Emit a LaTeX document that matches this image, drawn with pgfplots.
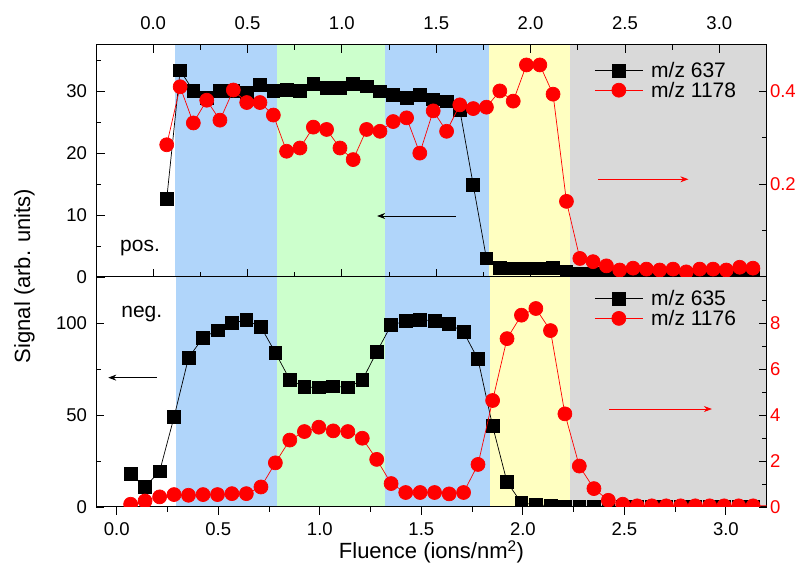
\documentclass[border=0pt]{standalone}
\usepackage{fontspec}
\setmainfont{Liberation Sans}
\usepackage{pgfplots}
\pgfplotsset{compat=1.18}
\usetikzlibrary{arrows.meta}
\definecolor{bandblue}{RGB}{176,213,250}
\definecolor{bandgreen}{RGB}{204,255,204}
\definecolor{bandyellow}{RGB}{255,255,193}
\definecolor{bandgray}{RGB}{217,217,217}
\pgfplotsset{
  base/.style={
    scale only axis, width=670pt,
    /pgf/number format/assume math mode=true,
    tick label style={font=\fontsize{18.5}{20}\selectfont},
    axis line style={line width=1pt},
    every tick/.style={black, line width=0.9pt},
    major tick length=8pt, minor tick length=5pt,
    tick align=inside,
    clip marker paths=true,
    legend image code/.code={\draw[mark repeat=2,mark phase=2] plot coordinates {(0pt,0pt)(24pt,0pt)(48pt,0pt)};},
    legend style={draw=none, fill=none, font=\fontsize{21}{24}\selectfont, row sep=3pt, column sep=8pt, inner sep=0pt, nodes={inner sep=0pt}, legend cell align=left},
  },
  sq/.style={black, line width=0.7pt, mark=square*, mark size=6.4pt, mark options={solid, fill=black}},
  ci/.style={red, line width=0.7pt, mark=*, mark size=7pt, mark options={solid, fill=red}},
}
\pgfplotstableread{
x y
0.072 12.6
0.143 33.4
0.213 30.1
0.284 29.0
0.354 30.1
0.425 30.1
0.496 29.8
0.566 31.1
0.637 30.1
0.707 30.3
0.778 30.1
0.849 31.2
0.919 30.6
0.990 30.6
1.060 31.2
1.131 30.8
1.202 30.0
1.272 29.5
1.343 29.0
1.413 29.5
1.484 28.7
1.555 28.4
1.625 27.0
1.696 14.9
1.766 3.0
1.837 1.5
1.908 1.4
1.978 1.4
2.049 1.4
2.119 1.5
2.190 0.9
2.261 0.5
2.331 0.5
2.402 0.5
2.472 0.4
2.543 0.4
2.614 0.4
2.684 0.4
2.755 0.4
2.825 0.4
2.896 0.4
2.967 0.4
3.037 0.4
3.108 0.4
3.178 0.4
}\toppos
\pgfplotstableread{
x y
0.072 0.285
0.143 0.410
0.213 0.332
0.284 0.381
0.354 0.338
0.425 0.403
0.496 0.376
0.566 0.376
0.637 0.349
0.707 0.271
0.778 0.278
0.849 0.323
0.919 0.318
0.990 0.278
1.060 0.253
1.131 0.318
1.202 0.314
1.272 0.335
1.343 0.343
1.413 0.267
1.484 0.358
1.555 0.314
1.625 0.371
1.696 0.363
1.766 0.366
1.837 0.401
1.908 0.379
1.978 0.457
2.049 0.457
2.119 0.394
2.190 0.163
2.261 0.040
2.331 0.033
2.402 0.024
2.472 0.015
2.543 0.019
2.614 0.017
2.684 0.015
2.755 0.017
2.825 0.011
2.896 0.017
2.967 0.017
3.037 0.015
3.108 0.021
3.178 0.019
}\topred
\pgfplotstableread{
x y
0.068 17.8
0.139 10.9
0.211 19.4
0.282 48.9
0.353 81.0
0.425 92.1
0.496 96.0
0.567 100.0
0.638 101.5
0.710 97.8
0.781 83.9
0.852 69.2
0.924 65.2
0.995 65.0
1.066 65.6
1.138 65.0
1.209 68.9
1.280 84.2
1.351 98.8
1.423 101.1
1.494 101.8
1.565 101.1
1.637 99.5
1.708 95.1
1.779 80.3
1.851 44.0
1.922 13.6
1.993 2.2
2.064 1.2
2.136 0.8
2.207 0.3
2.278 0.3
2.350 0.3
2.421 0.5
2.492 0.3
2.563 0.2
2.635 0.2
2.706 0.2
2.777 0.2
2.849 0.2
2.920 0.2
2.991 0.2
3.063 0.2
3.134 0.2
3.205 0.2
}\botneg
\pgfplotstableread{
x y
0.068 0.12
0.139 0.26
0.211 0.44
0.282 0.54
0.353 0.51
0.425 0.54
0.496 0.54
0.567 0.58
0.638 0.58
0.710 0.87
0.781 1.92
0.852 2.91
0.924 3.28
0.995 3.47
1.066 3.31
1.138 3.28
1.209 2.99
1.280 2.07
1.351 1.02
1.423 0.63
1.494 0.63
1.565 0.63
1.637 0.57
1.708 0.63
1.779 1.85
1.851 4.63
1.922 7.32
1.993 8.34
2.064 8.63
2.136 7.67
2.207 4.05
2.278 1.78
2.350 0.80
2.421 0.29
2.492 0.12
2.563 0.05
2.635 0.05
2.706 0.05
2.777 0.05
2.849 0.05
2.920 0.05
2.991 0.05
3.063 0.05
3.134 0.05
3.205 0.05
}\botred
\begin{document}
\begin{tikzpicture}
\useasboundingbox (-96.5pt,-71pt) rectangle (712.5pt,507pt);
% ---------- bottom panel ----------
\begin{axis}[base, at={(0pt,0pt)}, anchor=south west, height=230pt,
  xmin=-0.1, xmax=3.2, ymin=0, ymax=125,
  axis on top=true,
  xtick={0,0.5,...,3}, minor x tick num=1, xtick pos=left, xtick align=outside,
  xticklabel style={/pgf/number format/.cd, fixed, fixed zerofill, precision=1},
  xticklabel shift=4pt,
  ytick={0,50,100}, minor ytick={25,75}, ytick pos=left, yticklabel shift=6pt,
]
\fill[bandblue] (axis cs:0.290,0) rectangle (axis cs:0.790,125);
\fill[bandgreen] (axis cs:0.790,0) rectangle (axis cs:1.323,125);
\fill[bandblue] (axis cs:1.323,0) rectangle (axis cs:1.836,125);
\fill[bandyellow] (axis cs:1.836,0) rectangle (axis cs:2.233,125);
\fill[bandgray] (axis cs:2.233,0) rectangle (axis cs:3.2,125);
\addplot[sq] table {\botneg};
\draw[-{Stealth[length=8pt,width=6pt]}, line width=0.7pt] (axis cs:0.197,70.3) -- (axis cs:-0.042,70.3);
\node[font=\fontsize{21}{24}\selectfont] at (axis cs:0.123,104.9) {neg.};
\end{axis}
\begin{axis}[base, at={(0pt,0pt)}, anchor=south west, height=230pt,
  xmin=-0.1, xmax=3.2, ymin=0, ymax=10,
  axis x line=none, axis y line*=right,
  ytick={0,2,4,6,8}, minor ytick={1,3,5,7,9},
  yticklabel style={red},
  legend style={at={(0.743,0.943)}, anchor=north west},
]
\addlegendimage{sq}
\addlegendentry{m/z 635}
\addplot[ci] table {\botred};
\addlegendentry{m/z 1176}
\draw[red, -{Stealth[length=8pt,width=6pt]}, line width=0.7pt] (axis cs:2.425,4.26) -- (axis cs:2.931,4.26);
\end{axis}
% ---------- top panel ----------
\begin{axis}[base, at={(0pt,230pt)}, anchor=south west, height=232pt,
  xmin=-0.3, xmax=3.25, ymin=0, ymax=37.5,
  axis on top=true,
  xtick={0,0.5,...,3}, minor x tick num=1, xtick pos=both, xticklabel pos=right,
  xticklabel style={/pgf/number format/.cd, fixed, fixed zerofill, precision=1},
  xticklabel shift=12pt,
  ytick={0,10,20,30}, minor ytick={5,15,25,35}, ytick pos=left, yticklabel shift=6pt,
]
\fill[bandblue] (axis cs:0.118,0) rectangle (axis cs:0.659,37.5);
\fill[bandgreen] (axis cs:0.659,0) rectangle (axis cs:1.230,37.5);
\fill[bandblue] (axis cs:1.230,0) rectangle (axis cs:1.780,37.5);
\fill[bandyellow] (axis cs:1.780,0) rectangle (axis cs:2.207,37.5);
\fill[bandgray] (axis cs:2.207,0) rectangle (axis cs:3.25,37.5);
\addplot[sq] table {\toppos};
\draw[-{Stealth[length=8pt,width=6pt]}, line width=0.7pt] (axis cs:1.603,9.86) -- (axis cs:1.187,9.86);
\node[font=\fontsize{21}{24}\selectfont] at (axis cs:-0.069,4.7) {pos.};
\end{axis}
\begin{axis}[base, at={(0pt,230pt)}, anchor=south west, height=232pt,
  xmin=-0.3, xmax=3.25, ymin=0, ymax=0.5,
  axis x line=none, axis y line*=right,
  ytick={0.2,0.4}, minor ytick={0.1,0.3},
  yticklabel style={red, /pgf/number format/.cd, fixed, fixed zerofill, precision=1},
  legend style={at={(0.743,0.927)}, anchor=north west},
]
\addlegendimage{sq}
\addlegendentry{m/z 637}
\addplot[ci] table {\topred};
\addlegendentry{m/z 1178}
\draw[red, -{Stealth[length=8pt,width=6pt]}, line width=0.7pt] (axis cs:2.356,0.2106) -- (axis cs:2.836,0.2106);
\end{axis}
\node[rotate=90, font=\fontsize{22}{24}\selectfont] at (-72pt,231pt) {Signal (arb. units)};
\node[font=\fontsize{22}{24}\selectfont] at (335pt,-45pt) {Fluence (ions/nm\textsuperscript{2})};
\end{tikzpicture}
\end{document}
